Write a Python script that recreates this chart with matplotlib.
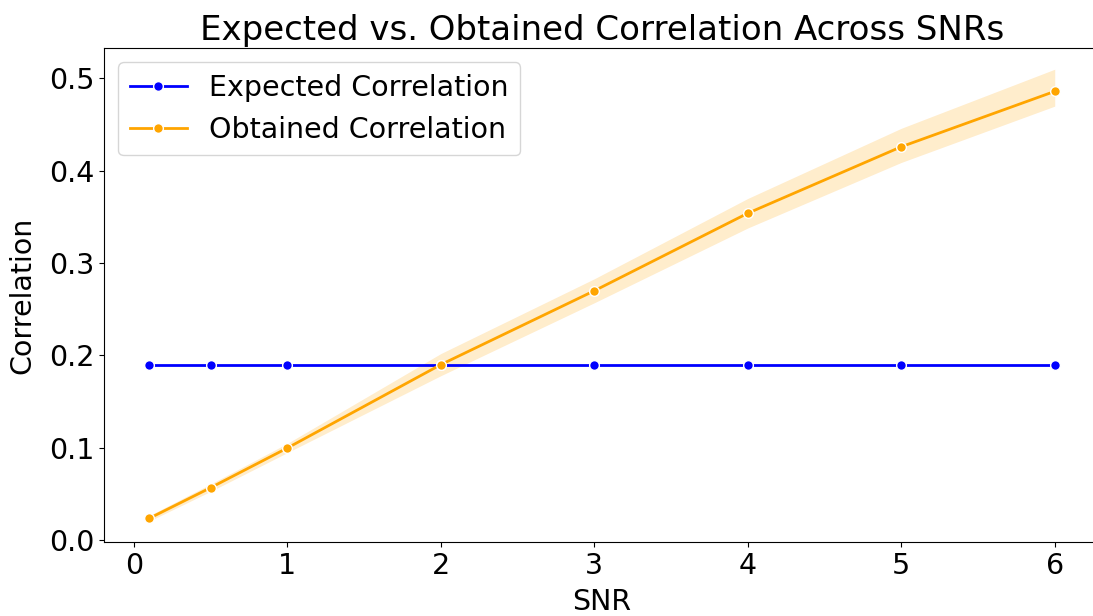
import matplotlib
matplotlib.use("Agg")
import matplotlib.pyplot as plt

# SNR levels and correlation values
snr = [0.1, 0.5, 1, 2, 3, 4, 5, 6]
expected_corr = [0.19, 0.19, 0.19, 0.19, 0.19, 0.19, 0.19, 0.19]
obtained_corr = [0.0235, 0.0567, 0.0997, 0.190, 0.270, 0.354, 0.426, 0.486]
# confidence band around the obtained correlation
obtained_low = [0.0205, 0.0527, 0.0947, 0.178, 0.257, 0.338, 0.409, 0.470]
obtained_high = [0.0265, 0.0607, 0.1047, 0.202, 0.283, 0.370, 0.446, 0.510]

fig = plt.figure(figsize=(10.93, 6.16), dpi=100)
ax = fig.add_axes([0.0952, 0.1201, 0.9112, 0.802])

ax.plot(snr, expected_corr, color='blue', marker='o', markersize=7,
        markeredgecolor='white', markeredgewidth=1, linewidth=2,
        label='Expected Correlation')
ax.plot(snr, obtained_corr, color='orange', marker='o', markersize=7,
        markeredgecolor='white', markeredgewidth=1, linewidth=2,
        label='Obtained Correlation')
ax.fill_between(snr, obtained_low, obtained_high, color='orange',
                alpha=0.2, linewidth=0)

ax.set_xlim(-0.195, 6.295)
ax.set_ylim(-0.0022, 0.533)
ax.set_xticks([0, 1, 2, 3, 4, 5, 6])
ax.set_yticks([0.0, 0.1, 0.2, 0.3, 0.4, 0.5])
ax.tick_params(labelsize=20.5)

ax.set_title('Expected vs. Obtained Correlation Across SNRs', fontsize=24.5)
ax.set_xlabel('SNR', fontsize=20.5, labelpad=6)
ax.set_ylabel('Correlation', fontsize=20.5, labelpad=9)
ax.legend(loc='upper left', fontsize=20.5)

fig.savefig('out.png', dpi=100)
